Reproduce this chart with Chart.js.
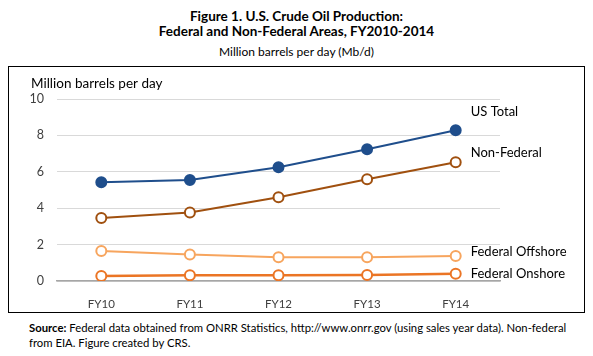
<!DOCTYPE html>
<html><head><meta charset="utf-8">
<script src="https://cdn.jsdelivr.net/npm/chart.js@4/dist/chart.umd.min.js"></script>
<style>
html,body{margin:0;padding:0;background:#fff;width:593px;height:356px;overflow:hidden;font-family:"Lato","Open Sans",sans-serif;color:#000;}
#t1{position:absolute;left:0;width:593px;top:9px;text-align:center;font-weight:bold;font-size:13.5px;line-height:15px;}
#t2{position:absolute;left:0;width:593px;top:44px;text-align:center;font-size:12px;}
#box{position:absolute;left:8px;top:66px;width:575px;height:245px;border:1px solid #000;}
#src{position:absolute;left:29px;top:320px;width:545px;font-size:11.3px;line-height:15px;}
canvas{display:block;}
</style></head><body>
<div id="t1">Figure 1. U.S. Crude Oil Production:<br>Federal and Non-Federal Areas, FY2010-2014</div>
<div id="t2">Million barrels per day (Mb/d)</div>
<div id="box"><canvas id="c" width="575" height="245"></canvas></div>
<div id="src"><b>Source:</b> Federal data obtained from ONRR Statistics, http://www.onrr.gov (using sales year data). Non-federal from EIA. Figure created by CRS.</div>
<script>
const categories = ["FY10","FY11","FY12","FY13","FY14"];
const usTotal = [5.42, 5.55, 6.25, 7.24, 8.28];
const nonFederal = [3.46, 3.77, 4.60, 5.59, 6.52];
const federalOffshore = [1.65, 1.45, 1.30, 1.30, 1.37];
const federalOnshore = [0.27, 0.31, 0.31, 0.33, 0.40];
const yTicks = [0, 2, 4, 6, 8, 10];
const seriesNames = ["US Total","Non-Federal","Federal Offshore","Federal Onshore"];

const labelOffsets = [-18, -10, -4, 0];
const endLabels = {
  id: 'endLabels',
  afterDatasetsDraw(chart) {
    const ctx = chart.ctx;
    ctx.save();
    ctx.font = '13px "Lato", "Open Sans", sans-serif';
    ctx.fillStyle = '#000';
    ctx.textBaseline = 'middle';
    ctx.textAlign = 'left';
    chart.data.datasets.forEach((ds, i) => {
      const meta = chart.getDatasetMeta(i);
      const p = meta.data[meta.data.length - 1];
      ctx.fillText(ds.label, p.x + 15, p.y + labelOffsets[i]);
    });
    ctx.font = '13.5px "Lato", "Open Sans", sans-serif';
    ctx.fillText('Million barrels per day', 22, 17);
    ctx.restore();
  }
};

function ds(label, data, color, filled, width) {
  return {
    label, data,
    borderColor: color, backgroundColor: filled ? color : '#fff',
    borderWidth: width, pointRadius: 5, pointBorderWidth: 2,
    pointBackgroundColor: filled ? color : '#fff', pointBorderColor: color,
    tension: 0
  };
}

new Chart(document.getElementById('c'), {
  type: 'line',
  data: {
    labels: categories,
    datasets: [
      ds(seriesNames[0], usTotal, '#1F4E8C', true, 2),
      ds(seriesNames[1], nonFederal, '#A0500F', false, 2),
      ds(seriesNames[2], federalOffshore, '#F7A55E', false, 2),
      ds(seriesNames[3], federalOnshore, '#EB7525', false, 2.5)
    ]
  },
  options: {
    responsive: false,
    animation: false,
    layout: { padding: { left: 0, right: 84, top: 32, bottom: 0 } },
    plugins: { legend: { display: false }, tooltip: { enabled: false } },
    scales: {
      x: {
        offset: true,
        grid: { display: false },
        border: { color: '#A6A6A6', width: 1.5 },
        ticks: { color: '#404040', font: { size: 11.5, family: '"Lato","Open Sans",sans-serif' }, padding: 8 },
        afterFit(s) { s.height = 31; }
      },
      y: {
        min: 0, max: 10,
        afterBuildTicks(s) { s.ticks = yTicks.map(v => ({ value: v })); },
        grid: { color: '#D9D9D9', drawTicks: false, lineWidth: 1 },
        border: { display: false },
        ticks: { color: '#404040', font: { size: 12.5, family: '"Lato","Open Sans",sans-serif' }, padding: 13 },
        afterFit(s) { s.width = 48; }
      }
    }
  },
  plugins: [endLabels]
});
</script>
</body></html>
